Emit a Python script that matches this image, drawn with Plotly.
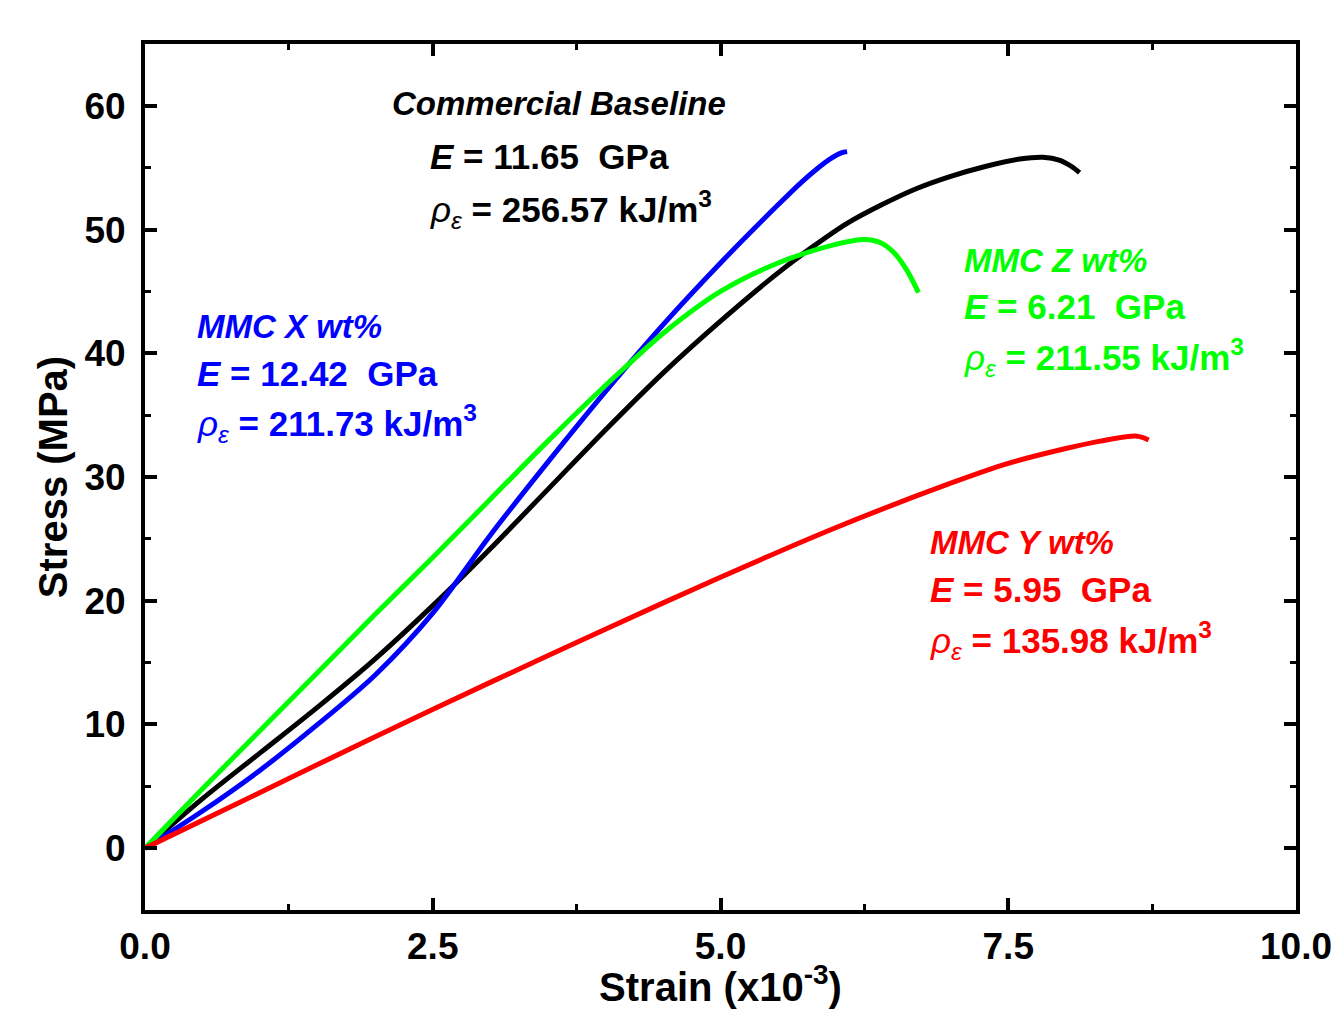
import plotly.graph_objects as go

# ---- data (strain x1e-3, stress MPa) ----
black_x = [0, 0.5, 1.0, 1.5, 2.0, 2.5, 3.0, 3.5, 4.0, 4.5, 5.0, 5.5, 5.8, 6.1, 6.4, 6.7, 7.0, 7.3, 7.6, 7.8, 7.95, 8.05, 8.12]
black_y = [0, 4.0, 7.7, 11.4, 15.3, 19.6, 24.2, 29.0, 33.8, 38.4, 42.6, 46.5, 48.6, 50.5, 52.0, 53.3, 54.3, 55.1, 55.7, 55.85, 55.6, 55.1, 54.6]

blue_x = [0, 0.5, 1.0, 1.5, 2.0, 2.5, 3.0, 3.5, 4.0, 4.5, 5.0, 5.5, 5.7, 5.85, 5.95, 6.05, 6.1]
blue_y = [0, 3.0, 6.3, 10.0, 14.0, 19.0, 25.3, 31.2, 36.9, 42.3, 47.3, 52.0, 53.8, 55.0, 55.7, 56.2, 56.3]

green_x = [0, 0.5, 1.0, 1.5, 2.0, 2.5, 3.0, 3.5, 4.0, 4.2, 4.5, 5.0, 5.5, 6.0, 6.25, 6.4, 6.51, 6.62, 6.72]
green_y = [0, 4.8, 9.5, 14.2, 18.9, 23.5, 28.2, 32.9, 37.4, 39.1, 41.6, 45.0, 47.3, 48.8, 49.2, 48.9, 48.1, 46.7, 44.9]

red_x = [0, 1.0, 2.0, 3.0, 4.0, 5.0, 6.0, 7.0, 7.5, 8.0, 8.3, 8.62, 8.72]
red_y = [0, 4.5, 9.0, 13.4, 17.7, 21.9, 25.9, 29.5, 31.1, 32.3, 32.9, 33.3, 33.0]

series = [
    ("Commercial Baseline", black_x, black_y, "#000000"),
    ("MMC X wt%", blue_x, blue_y, "#0000FF"),
    ("MMC Z wt%", green_x, green_y, "#00FF00"),
    ("MMC Y wt%", red_x, red_y, "#FF0000"),
]

# annotation text blocks: (lines, color, x per line, y per line)
labels = [
    (["<b><i>Commercial Baseline</i></b>",
      "<b><i>E</i> = 11.65  GPa</b>",
      "<i>ρ</i><sub><i>ε</i></sub><b> = 256.57 kJ/m<sup>3</sup></b>"],
     "#000000", [2.13, 2.46, 2.46], [60.2, 55.9, 51.6]),
    (["<b><i>MMC X wt%</i></b>",
      "<b><i>E</i> = 12.42  GPa</b>",
      "<i>ρ</i><sub><i>ε</i></sub><b> = 211.73 kJ/m<sup>3</sup></b>"],
     "#0000FF", [0.435, 0.435, 0.435], [42.2, 38.4, 34.3]),
    (["<b><i>MMC Z wt%</i></b>",
      "<b><i>E</i> = 6.21  GPa</b>",
      "<i>ρ</i><sub><i>ε</i></sub><b> = 211.55 kJ/m<sup>3</sup></b>"],
     "#00FF00", [7.10, 7.10, 7.10], [47.5, 43.8, 39.7]),
    (["<b><i>MMC Y wt%</i></b>",
      "<b><i>E</i> = 5.95  GPa</b>",
      "<i>ρ</i><sub><i>ε</i></sub><b> = 135.98 kJ/m<sup>3</sup></b>"],
     "#FF0000", [6.80, 6.80, 6.80], [24.7, 20.9, 16.8]),
]
line_sizes = [33, 35, 35]

FONT = "Liberation Sans, Arial, sans-serif"

fig = go.Figure()
for name, xs, ys, col in series:
    fig.add_trace(go.Scatter(x=xs, y=ys, mode="lines", name=name,
                             line=dict(color=col, width=5, shape="spline", smoothing=0.9),
                             showlegend=False))

for lines, col, xs, ys in labels:
    for t, xx, yy, sz in zip(lines, xs, ys, line_sizes):
        fig.add_annotation(x=xx, y=yy, xref="x", yref="y", text=t, showarrow=False,
                           xanchor="left", yanchor="middle",
                           font=dict(family=FONT, size=sz, color=col))

axis_common = dict(showline=True, linecolor="black", linewidth=4, mirror="ticks",
                   ticks="inside", ticklen=12, tickwidth=4, tickcolor="black",
                   showgrid=False, zeroline=False)

fig.update_xaxes(range=[0, 10], tick0=0, dtick=2.5, tickformat=".1f",
                 tickfont=dict(family=FONT, size=37, color="black", weight="bold"),
                 minor=dict(dtick=1.25, ticks="inside", ticklen=6, tickwidth=3, tickcolor="black"),
                 title=dict(text="<b>Strain (x10<sup>-3</sup>)</b>",
                            font=dict(family=FONT, size=40, color="black"), standoff=15),
                 ticklabelstandoff=1,
                 **axis_common)
fig.update_yaxes(range=[-5, 65], tick0=0, dtick=10,
                 tickfont=dict(family=FONT, size=37, color="black", weight="bold"),
                 minor=dict(dtick=5, ticks="inside", ticklen=6, tickwidth=3, tickcolor="black"),
                 title=dict(text="<b>Stress (MPa)</b>",
                            font=dict(family=FONT, size=40, color="black"), standoff=5),
                 ticklabelstandoff=8,
                 **axis_common)

fig.update_layout(width=1338, height=1009,
                  margin=dict(l=145, r=42, t=44, b=99, autoexpand=False),
                  plot_bgcolor="white", paper_bgcolor="white")

fig.write_html("out.html")
